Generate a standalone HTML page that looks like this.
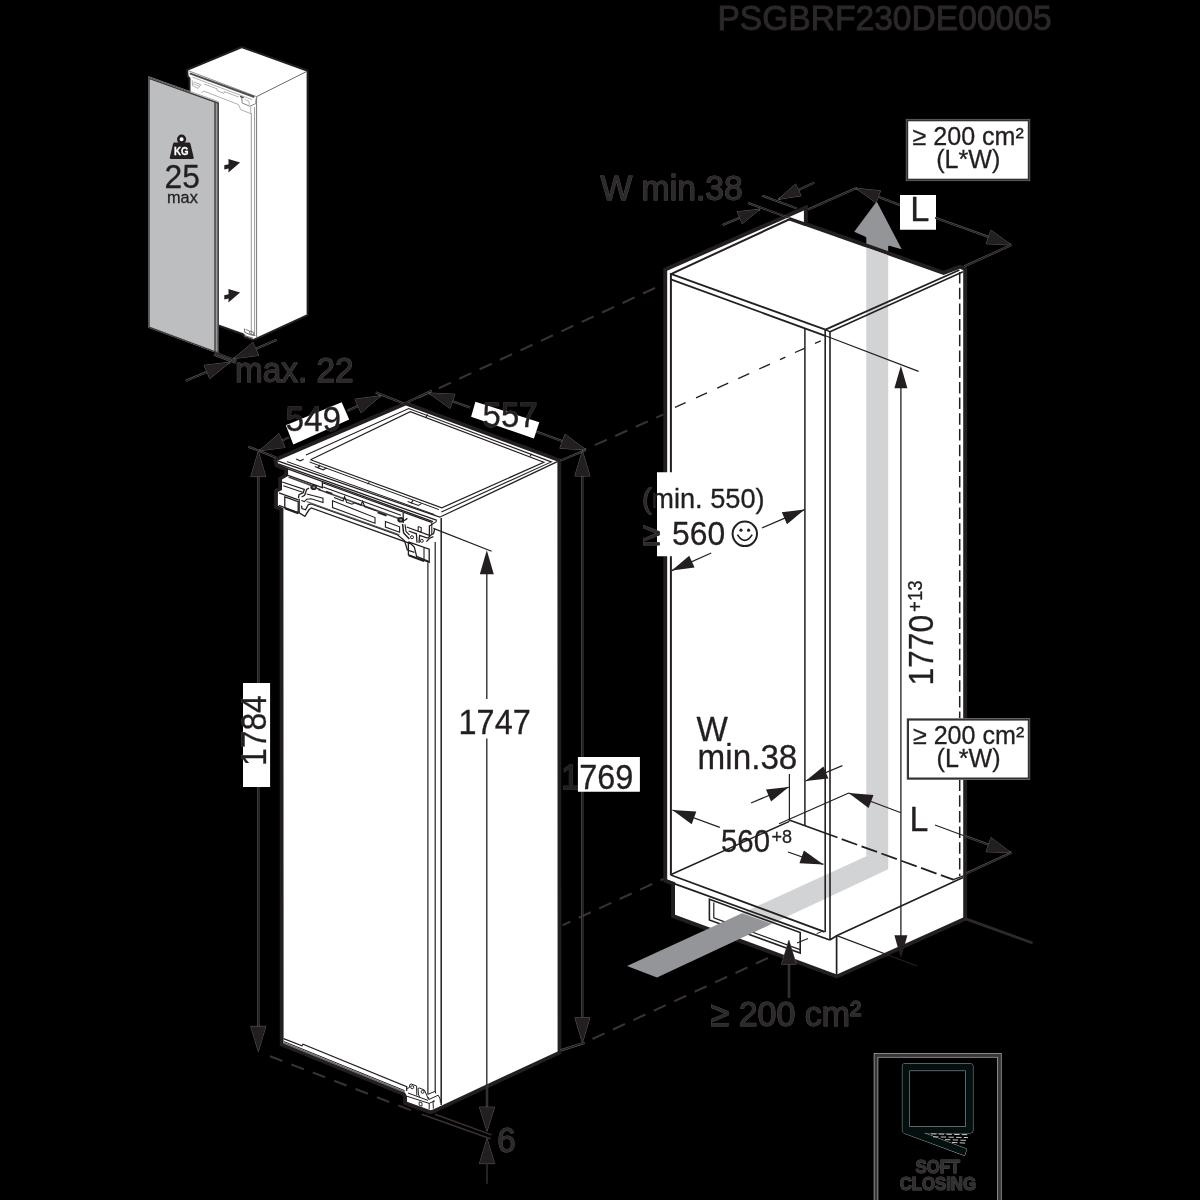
<!DOCTYPE html>
<html><head><meta charset="utf-8"><title>Installation dimensions</title>
<style>html,body{margin:0;padding:0;background:#000;overflow:hidden;}svg{display:block;will-change:transform;}text{font-family:"Liberation Sans",sans-serif;}</style></head>
<body>
<svg width="1200" height="1200" viewBox="0 0 1200 1200">
<rect width="1200" height="1200" fill="#000"/>
<text x="717.4" y="30.2" font-size="35" text-anchor="start" fill="#2c2829" transform="translate(717.4 30.2) scale(0.96 1) translate(-717.4 -30.2)" stroke="#2c2829" stroke-width="0.9">PSGBRF230DE00005</text>
<line x1="407" y1="403" x2="663.5" y2="284" stroke="#3a3036" stroke-width="2.1" stroke-dasharray="13.3 9.2" stroke-dashoffset="9.9"/>
<line x1="586" y1="449" x2="663.5" y2="414.4" stroke="#3a3036" stroke-width="2.1" stroke-dasharray="13.3 9.2" stroke-dashoffset="12.97"/>
<line x1="562.6" y1="925.2" x2="664" y2="878.6" stroke="#3a3036" stroke-width="2.1" stroke-dasharray="13.3 9.2" stroke-dashoffset="4.73"/>
<line x1="586" y1="1042" x2="770" y2="957" stroke="#3a3036" stroke-width="2.1" stroke-dasharray="13.3 9.2" stroke-dashoffset="15.34"/>
<polygon points="188.2,70.6 241.8,48.2 306.6,71.5 306.6,314.5 256.6,337.4 253.3,338.9 245.3,336.3 243.3,333.3 190.5,314.6 190.5,78 188.6,76" fill="#fff" stroke="#231f20" stroke-width="4" stroke-linejoin="miter" stroke-miterlimit="3" paint-order="stroke"/>
<polyline points="188.2,70.6 256.6,96.6" fill="none" stroke="#777" stroke-width="0.8" />
<polyline points="256.6,96.6 306.6,71.5" fill="none" stroke="#5a5758" stroke-width="0.9" />
<polyline points="256.6,96.6 256.6,337.4" fill="none" stroke="#6a6768" stroke-width="0.9" />
<polyline points="189.8,73.3 254.4,97" fill="none" stroke="#4d4a4b" stroke-width="1.9" />
<polyline points="192.6,77.2 252,99.6" fill="none" stroke="#9c9c9c" stroke-width="0.8" />
<polyline points="192.2,80.2 192.6,85.8 198,88.4 200.8,84.8 193.6,81.8" fill="none" stroke="#9c9c9c" stroke-width="0.8" />
<polyline points="193,83.6 199.6,86.4" fill="none" stroke="#9c9c9c" stroke-width="0.7" />
<polyline points="204,84 217,88.8 217.4,90.8 224,93.4 224.4,91.6 238.6,97" fill="none" stroke="#9c9c9c" stroke-width="0.8" />
<polyline points="201.4,93.2 203.4,91 238.6,104.6 240.6,109.6 250.6,113.6 250.8,106.4" fill="none" stroke="#9c9c9c" stroke-width="0.8" />
<polyline points="241.6,97.6 242.2,103 249.6,106.2 255.6,103.8 256.2,98.4" fill="none" stroke="#7a7778" stroke-width="0.9" />
<polyline points="245,99.6 249,101.2 249.2,104.8" fill="none" stroke="#9c9c9c" stroke-width="0.7" />
<polyline points="240,96.4 243.6,97.8" fill="none" stroke="#4d4a4b" stroke-width="1.5" />
<polyline points="251.3,113 251.3,334" fill="none" stroke="#8a8a8a" stroke-width="0.9" />
<polyline points="254.6,107 254.6,335" fill="none" stroke="#8a8a8a" stroke-width="0.9" />
<polyline points="244.4,328.6 244.8,332.4 250.4,334.8 255.4,335.6" fill="none" stroke="#4a4748" stroke-width="0.8" />
<polyline points="245.6,329.4 249.6,331 249.8,333.6 253.6,334.8 253.8,332.4 250,331" fill="none" stroke="#4a4748" stroke-width="0.7" />
<polyline points="243.6,333.6 245.8,336 253.2,338.2" fill="none" stroke="#4a4748" stroke-width="0.8" />
<polygon points="148.3,77.2 218.9,102.6 218.9,353.8 148.3,327.6" fill="#97999c" stroke="none" stroke-width="0" stroke-linejoin="miter" />
<polygon points="148.3,77.2 214.6,101.2 214.6,352.2 148.3,327.6" fill="#bcbec0" stroke="none" stroke-width="0" stroke-linejoin="miter" />
<polygon points="149,78.3 218.2,103.2 218.2,353 214.6,351.6 149,327.2" fill="none" stroke="#3c393a" stroke-width="1.4" />
<polyline points="215,102.2 215,352" fill="none" stroke="#3c393a" stroke-width="1.3" />
<polyline points="148.4,76.5 218.6,101.7" fill="none" stroke="#8e8e8e" stroke-width="0.8" />
<polygon points="224.3,165.3 228.6,164.2 228.4,159 240.1,162.6 228.4,172.4 228.6,168.4 224.3,169.4" fill="#231f20" stroke="none" stroke-width="0" stroke-linejoin="miter" />
<polygon points="224.3,295.3 228.6,294.2 228.4,289 240.1,292.6 228.4,302.4 228.6,298.4 224.3,299.4" fill="#231f20" stroke="none" stroke-width="0" stroke-linejoin="miter" />
<circle cx="181.6" cy="139.2" r="3.3" fill="#fff" stroke="#231f20" stroke-width="2.6"/>
<path d="M174.6 142.6 H188.9 Q190.2 142.6 190.5 143.9 L193.7 157.4 Q194.0 159.0 192.4 159.0 H171.1 Q169.5 159.0 169.8 157.4 L173.0 143.9 Q173.3 142.6 174.6 142.6 Z" fill="#231f20"/>
<text x="181.2" y="154.7" font-size="10.4" text-anchor="middle" fill="#fff" transform="translate(181.2 154.7) scale(0.93 1) translate(-181.2 -154.7)" stroke="#fff" stroke-width="0.3" font-weight="bold" >KG</text>
<text x="182.3" y="188" font-size="33.5" text-anchor="middle" fill="#231f20" transform="translate(182.3 188) scale(0.95 1) translate(-182.3 -188)" stroke="#231f20" stroke-width="0.3" >25</text>
<text x="182.4" y="202.6" font-size="16.8" text-anchor="middle" fill="#231f20" transform="translate(182.4 202.6) scale(0.97 1) translate(-182.4 -202.6)" stroke="#231f20" stroke-width="0.3" >max</text>
<polyline points="215,352.6 236.6,360.6" fill="none" stroke="#666666" stroke-width="2" />
<polyline points="215,352.6 236.6,360.6" fill="none" stroke="#231f20" stroke-width="1.2" />
<polyline points="214,354.8 235.6,362.8" fill="none" stroke="#666666" stroke-width="2" />
<polyline points="214,354.8 235.6,362.8" fill="none" stroke="#231f20" stroke-width="1.2" />
<polyline points="276.7,339.7 233.4,358.7" fill="none" stroke="#666666" stroke-width="2.1" />
<polyline points="276.7,339.7 233.4,358.7" fill="none" stroke="#231f20" stroke-width="1.3" />
<polygon points="233.4,358.7 252.96,342.31 258.71,355.4" fill="#231f20" stroke="#666666" stroke-width="0.9" stroke-linejoin="miter" />
<polygon points="233.4,358.7 252.96,342.31 258.71,355.4" fill="#231f20" stroke="none" stroke-width="0" stroke-linejoin="miter" />
<polyline points="185.8,380.8 230,362.3" fill="none" stroke="#666666" stroke-width="2.1" />
<polyline points="185.8,380.8 230,362.3" fill="none" stroke="#231f20" stroke-width="1.3" />
<polygon points="230,362.3 209.72,378.59 204.16,365.31" fill="#231f20" stroke="#666666" stroke-width="0.9" stroke-linejoin="miter" />
<polygon points="230,362.3 209.72,378.59 204.16,365.31" fill="#231f20" stroke="none" stroke-width="0" stroke-linejoin="miter" />
<text x="234.9" y="382.5" font-size="35.5" text-anchor="start" fill="#2e2a2b" transform="translate(234.9 382.5) scale(0.94 1) translate(-234.9 -382.5)" stroke="#585858" stroke-width="1.1" paint-order="stroke" >max. 22</text>
<text x="234.9" y="382.5" font-size="35.5" text-anchor="start" fill="#2e2a2b" transform="translate(234.9 382.5) scale(0.94 1) translate(-234.9 -382.5)" stroke="#2e2a2b" stroke-width="0.3" >max. 22</text>
<polygon points="277.5,460.8 405.8,405.4 557.4,461.6 557.6,1051.4 441.7,1105.4 433.6,1109.2 430.6,1110.2 407,1101.8 407,1096.2 405,1092.6 283.6,1043.2 283.4,508.2 277.9,505.6 277.9,491.9 282,490 282,479.6 288.1,476 288.1,468.2 278.2,464" fill="#fff" stroke="#231f20" stroke-width="7.6" stroke-linejoin="miter" stroke-miterlimit="3" paint-order="stroke"/>
<polyline points="277.5,460.8 439.7,517.2 557.4,461.6" fill="none" stroke="#231f20" stroke-width="1.25" />
<polyline points="287,461.6 434.6,514.6" fill="none" stroke="#231f20" stroke-width="1" />
<polyline points="309.6,462 439,509.6" fill="none" stroke="#231f20" stroke-width="1" />
<polyline points="306,455 408.7,408.5 551.3,461.9 441.4,512" fill="none" stroke="#231f20" stroke-width="1.1" />
<polyline points="310.5,459.8 410.3,411.6 543.8,462.3 441.8,507.8 310.5,459.8" fill="none" stroke="#231f20" stroke-width="1.2" />
<polyline points="427.4,414.2 426,417.2" fill="none" stroke="#231f20" stroke-width="1.1" />
<polyline points="531.6,453.8 530,456.6" fill="none" stroke="#231f20" stroke-width="1.1" />
<polyline points="441.2,518 441.2,1105" fill="none" stroke="#231f20" stroke-width="1.5" />
<polyline points="435.2,542 435.2,1091.4" fill="none" stroke="#231f20" stroke-width="1.2" />
<polyline points="427.9,562.5 427.9,1094.2" fill="none" stroke="#231f20" stroke-width="1.2" />
<polyline points="283.6,1038.6 302,1045.8 303,1044.2 406.7,1086.7 406.7,1091" fill="none" stroke="#231f20" stroke-width="1.2" />
<polyline points="284,1041.6 404.6,1090.6" fill="none" stroke="#231f20" stroke-width="1" />
<polyline points="284,1043 404.6,1092" fill="none" stroke="#6d6a6b" stroke-width="1.4" />
<polyline points="278.1,463.8 437,520.4" fill="none" stroke="#231f20" stroke-width="1.3" />
<polyline points="287.7,468.9 433,521.6" fill="none" stroke="#231f20" stroke-width="1.3" />
<polyline points="288,475.4 322.4,487.6" fill="none" stroke="#231f20" stroke-width="1.3" />
<polyline points="288.6,477 311.3,485.4" fill="none" stroke="#4a4648" stroke-width="1.7" />
<polyline points="322.4,481.6 322.4,488.4" fill="none" stroke="#231f20" stroke-width="1.3" />
<polyline points="323,483 431.6,522.4" fill="none" stroke="#231f20" stroke-width="1.3" />
<polyline points="318.4,489.4 403.6,520.2" fill="none" stroke="#4a4648" stroke-width="1.6" />
<polyline points="323.2,487 401,515.2" fill="none" stroke="#231f20" stroke-width="1.1" />
<polyline points="296,459 300.4,460.8 303.6,459.2" fill="none" stroke="#231f20" stroke-width="1.1" />
<polyline points="314.8,466.6 323.2,469.8 326.6,468" fill="none" stroke="#231f20" stroke-width="1.1" />
<polyline points="320,465 317.8,468" fill="none" stroke="#231f20" stroke-width="1.3" />
<polyline points="407.6,501.4 418.4,505.4 421.4,503.6" fill="none" stroke="#231f20" stroke-width="1.1" />
<polyline points="413.2,500 411,503.4" fill="none" stroke="#231f20" stroke-width="1.3" />
<path d="M367.4 484.0 l2.0 -1.4" stroke="#231f20" stroke-width="1.4" fill="none"/>
<polyline points="282.2,482 304.3,489.3 303.2,492.8 299,494.6 298.5,498.2" fill="none" stroke="#231f20" stroke-width="1.3" />
<polyline points="283.3,485.8 302.6,492.3" fill="none" stroke="#231f20" stroke-width="1.1" />
<polyline points="279,492.8 284.5,494.9 298.4,499.8" fill="none" stroke="#231f20" stroke-width="1.3" />
<polygon points="284.8,496.9 298.2,501.6 298.2,512.7 284.8,507.7" fill="none" stroke="#231f20" stroke-width="1.3" />
<polyline points="284.8,508.2 298.2,513.2" fill="none" stroke="#231f20" stroke-width="2" />
<polyline points="279,505.4 284.6,507.6" fill="none" stroke="#231f20" stroke-width="1.3" />
<polyline points="299.2,498.7 299.2,512.9 304.9,516.4 309,509.8 311.3,508 411,543.8 414.4,547.4 416.6,556.4 429.2,561.6" fill="none" stroke="#231f20" stroke-width="1.3" />
<polyline points="301.6,497 304.6,495.2 305.6,492.6 306.6,489.4 309,488.2" fill="none" stroke="#231f20" stroke-width="1.3" />
<polyline points="301.4,500.4 304.3,501.6 306.7,499.3 311.3,498.7 323,502.6 323,498.1 306.7,494" fill="none" stroke="#231f20" stroke-width="1.1" />
<polyline points="301.4,505.7 302,508.6 305.5,509.8 308.4,504.5 311.3,503.9 397,534.6 404.4,540.6 407.4,550 414.4,552.4" fill="none" stroke="#231f20" stroke-width="1.3" />
<polyline points="306.6,501.6 399.4,534.8" fill="none" stroke="#555" stroke-width="1.1" />
<polyline points="326,491.6 332.3,493.8" fill="none" stroke="#231f20" stroke-width="1.7" />
<polygon points="332.5,500.8 375,517.5 375,523.3 332.5,507.5" fill="none" stroke="#231f20" stroke-width="1.1" />
<polygon points="385.4,521.4 399.6,526.8 399.6,532.2 385.4,527" fill="none" stroke="#231f20" stroke-width="1.1" />
<polyline points="334,497.6 343,501 344.6,496.6 346.6,502.2 352,504.2 354.4,502.8 361,505.2 362.6,501.2 364.8,506.8 377,511" fill="none" stroke="#231f20" stroke-width="1.1" />
<polyline points="377.6,512.4 386.6,515.6" fill="none" stroke="#231f20" stroke-width="1.8" />
<ellipse cx="313.7" cy="487.3" rx="3.3" ry="2.8" fill="#231f20"/>
<ellipse cx="313.9" cy="487.3" rx="1.4" ry="1.1" fill="#8a8a8a"/>
<ellipse cx="400.6" cy="519.8" rx="3.3" ry="2.8" fill="#231f20"/>
<ellipse cx="400.8" cy="519.8" rx="1.4" ry="1.1" fill="#8a8a8a"/>
<polyline points="317,488.4 320.4,489.8" fill="none" stroke="#231f20" stroke-width="1.5" />
<polyline points="404,520.8 407.4,518.4" fill="none" stroke="#231f20" stroke-width="1.3" />
<polyline points="403.2,512.8 403.2,523" fill="none" stroke="#231f20" stroke-width="1.3" />
<polyline points="402.6,524 403.6,533 407,536.6 409.4,539" fill="none" stroke="#231f20" stroke-width="1.5" />
<polyline points="405,524.4 406,531.4 409.6,535.2" fill="none" stroke="#231f20" stroke-width="1.1" />
<polyline points="406.6,527 429.4,535.4 429.4,525.6" fill="none" stroke="#231f20" stroke-width="1.3" />
<polyline points="408.6,531 416.4,533.8 417,542.6" fill="none" stroke="#231f20" stroke-width="1.3" />
<polyline points="419,543 419.6,535.4 427.6,538.2" fill="none" stroke="#231f20" stroke-width="1.3" />
<polyline points="418.2,526.6 418.2,531.2 421.2,532.2 421.2,527.6 418.2,526.6" fill="none" stroke="#231f20" stroke-width="1.1" />
<circle cx="412.0" cy="537.2" r="1.5" fill="none" stroke="#231f20" stroke-width="1.0"/>
<circle cx="421.8" cy="540.8" r="1.5" fill="none" stroke="#231f20" stroke-width="1.0"/>
<polyline points="408.4,541.8 429.2,549.2 429.2,562.4 408.4,554.8 408.4,541.8" fill="none" stroke="#231f20" stroke-width="1.3" />
<polyline points="424,547.4 424,560.4" fill="none" stroke="#231f20" stroke-width="1.1" />
<polyline points="408.6,555.4 424,561.2" fill="none" stroke="#231f20" stroke-width="1.9" />
<polyline points="427.6,538.2 431,535 433.6,533.6 434.6,529" fill="none" stroke="#231f20" stroke-width="1.3" />
<polyline points="426.4,541.6 429.6,538.2 433.4,536.6" fill="none" stroke="#231f20" stroke-width="1.3" />
<polyline points="431.8,522.2 431.8,534.4" fill="none" stroke="#231f20" stroke-width="1.1" />
<polyline points="429.4,526 436.8,521.4" fill="none" stroke="#231f20" stroke-width="1.1" />
<polyline points="406.7,1088.6 409.4,1087.6 409.8,1084.6 411.4,1084 416.6,1086 416.8,1095.6" fill="none" stroke="#231f20" stroke-width="1" />
<polyline points="418,1088.4 419.4,1088 424.4,1090 426.2,1094 428.6,1099.6" fill="none" stroke="#231f20" stroke-width="1" />
<polyline points="418,1088.4 418.4,1094 419.6,1097.4" fill="none" stroke="#231f20" stroke-width="1" />
<circle cx="412.2" cy="1087.2" r="1.5" fill="none" stroke="#231f20" stroke-width="1.0"/>
<circle cx="422.6" cy="1091.8" r="1.5" fill="none" stroke="#231f20" stroke-width="1.0"/>
<polyline points="407.1,1096.3 429.2,1103.4 429.2,1109.4" fill="none" stroke="#231f20" stroke-width="1" />
<polyline points="408,1093 428,1100.4" fill="none" stroke="#231f20" stroke-width="1" />
<polyline points="419.2,1101.8 419.2,1105.2 422,1106.2 422,1102.8 419.2,1101.8" fill="none" stroke="#231f20" stroke-width="0.9" />
<polyline points="427.6,1094.4 435.4,1091.2 435.6,1093.4" fill="none" stroke="#231f20" stroke-width="1" />
<polyline points="428.4,1097.2 429.2,1099.4 438.2,1095.2 440.2,1099 440.4,1102.6" fill="none" stroke="#231f20" stroke-width="1" />
<polyline points="429.2,1103.4 433,1101.6 433.4,1108.6" fill="none" stroke="#231f20" stroke-width="1" />
<polyline points="433,1101.6 434.6,1100.8" fill="none" stroke="#231f20" stroke-width="1.6" />
<polyline points="258.3,476 258.3,1027" fill="none" stroke="#666666" stroke-width="2.3" />
<polyline points="258.3,476 258.3,1027" fill="none" stroke="#231f20" stroke-width="1.5" />
<polygon points="258.3,451.6 265.8,476.6 250.8,476.6" fill="#231f20" stroke="#666666" stroke-width="0.9" stroke-linejoin="miter" />
<polygon points="258.3,451.6 265.8,476.6 250.8,476.6" fill="#231f20" stroke="none" stroke-width="0" stroke-linejoin="miter" />
<polygon points="258.3,1051.4 250.8,1026.4 265.8,1026.4" fill="#231f20" stroke="#666666" stroke-width="0.9" stroke-linejoin="miter" />
<polygon points="258.3,1051.4 250.8,1026.4 265.8,1026.4" fill="#231f20" stroke="none" stroke-width="0" stroke-linejoin="miter" />
<text x="265.8" y="766" font-size="35.4" text-anchor="start" fill="#2e2a2b" transform="rotate(-90 265.8 766) translate(265.8 766) scale(0.9 1) translate(-265.8 -766)" stroke="#585858" stroke-width="1.1" paint-order="stroke" >1784</text>
<text x="265.8" y="766" font-size="35.4" text-anchor="start" fill="#2e2a2b" transform="rotate(-90 265.8 766) translate(265.8 766) scale(0.9 1) translate(-265.8 -766)" stroke="#2e2a2b" stroke-width="0.3" >1784</text>
<polygon points="243,683 270.1,683 270.1,787 243,787" fill="#fff" stroke="none" stroke-width="0" stroke-linejoin="miter" />
<text x="265.8" y="766" font-size="35.4" text-anchor="start" fill="#231f20" transform="rotate(-90 265.8 766) translate(265.8 766) scale(0.9 1) translate(-265.8 -766)" stroke="#231f20" stroke-width="0.3" >1784</text>
<polyline points="248.3,446.7 276,457.4" fill="none" stroke="#666666" stroke-width="2.1" />
<polyline points="248.3,446.7 276,457.4" fill="none" stroke="#231f20" stroke-width="1.3" />
<polyline points="347.5,410.8 380.8,395.8" fill="none" stroke="#666666" stroke-width="2.1" />
<polyline points="347.5,410.8 380.8,395.8" fill="none" stroke="#231f20" stroke-width="1.3" />
<polygon points="380.8,395.8 361.09,412.91 354.93,399.23" fill="#231f20" stroke="#666666" stroke-width="0.9" stroke-linejoin="miter" />
<polygon points="380.8,395.8 361.09,412.91 354.93,399.23" fill="#231f20" stroke="none" stroke-width="0" stroke-linejoin="miter" />
<polyline points="289,437.4 259.2,450.8" fill="none" stroke="#666666" stroke-width="2.1" />
<polyline points="289,437.4 259.2,450.8" fill="none" stroke="#231f20" stroke-width="1.3" />
<polygon points="259.2,450.8 278.93,433.71 285.08,447.39" fill="#231f20" stroke="#666666" stroke-width="0.9" stroke-linejoin="miter" />
<polygon points="259.2,450.8 278.93,433.71 285.08,447.39" fill="#231f20" stroke="none" stroke-width="0" stroke-linejoin="miter" />
<text x="285.5" y="430.6" font-size="35.5" text-anchor="start" fill="#2e2a2b" transform="translate(285.5 430.6) scale(0.94 1) translate(-285.5 -430.6)" stroke="#585858" stroke-width="1.1" paint-order="stroke" >549</text>
<text x="285.5" y="430.6" font-size="35.5" text-anchor="start" fill="#2e2a2b" transform="translate(285.5 430.6) scale(0.94 1) translate(-285.5 -430.6)" stroke="#2e2a2b" stroke-width="0.3" >549</text>
<polygon points="285.8,425.2 341.7,402.2 349.2,419.4 293.3,444.4" fill="#fff" stroke="none" stroke-width="0" stroke-linejoin="miter" />
<text x="285.5" y="430.6" font-size="35.5" text-anchor="start" fill="#231f20" transform="translate(285.5 430.6) scale(0.94 1) translate(-285.5 -430.6)" stroke="#231f20" stroke-width="0.3" >549</text>
<polyline points="375.8,392.4 404,403.6" fill="none" stroke="#666666" stroke-width="2.1" />
<polyline points="375.8,392.4 404,403.6" fill="none" stroke="#231f20" stroke-width="1.3" />
<polyline points="431.7,390.8 407,402.4" fill="none" stroke="#666666" stroke-width="2.1" />
<polyline points="431.7,390.8 407,402.4" fill="none" stroke="#231f20" stroke-width="1.3" />
<polyline points="470,407.6 428.8,393" fill="none" stroke="#666666" stroke-width="2.1" />
<polyline points="470,407.6 428.8,393" fill="none" stroke="#231f20" stroke-width="1.3" />
<polygon points="428.8,393 454.87,394.28 449.86,408.42" fill="#231f20" stroke="#666666" stroke-width="0.9" stroke-linejoin="miter" />
<polygon points="428.8,393 454.87,394.28 449.86,408.42" fill="#231f20" stroke="none" stroke-width="0" stroke-linejoin="miter" />
<polyline points="536,431.6 585.9,449.8" fill="none" stroke="#666666" stroke-width="2.1" />
<polyline points="536,431.6 585.9,449.8" fill="none" stroke="#231f20" stroke-width="1.3" />
<polygon points="585.9,449.8 559.84,448.28 564.98,434.19" fill="#231f20" stroke="#666666" stroke-width="0.9" stroke-linejoin="miter" />
<polygon points="585.9,449.8 559.84,448.28 564.98,434.19" fill="#231f20" stroke="none" stroke-width="0" stroke-linejoin="miter" />
<text x="482.6" y="426.8" font-size="35" text-anchor="start" fill="#2e2a2b" transform="translate(482.6 426.8) scale(0.94 1) translate(-482.6 -426.8)" stroke="#585858" stroke-width="1.1" paint-order="stroke" >557</text>
<text x="482.6" y="426.8" font-size="35" text-anchor="start" fill="#2e2a2b" transform="translate(482.6 426.8) scale(0.94 1) translate(-482.6 -426.8)" stroke="#2e2a2b" stroke-width="0.3" >557</text>
<polygon points="475.4,401.7 539.3,422.3 533.9,438.5 471.1,416.8" fill="#fff" stroke="none" stroke-width="0" stroke-linejoin="miter" />
<text x="482.6" y="426.8" font-size="35" text-anchor="start" fill="#231f20" transform="translate(482.6 426.8) scale(0.94 1) translate(-482.6 -426.8)" stroke="#231f20" stroke-width="0.3" >557</text>
<polyline points="560.5,460.6 585.5,450" fill="none" stroke="#666666" stroke-width="2.1" />
<polyline points="560.5,460.6 585.5,450" fill="none" stroke="#231f20" stroke-width="1.3" />
<polyline points="582.2,475 582.2,1019" fill="none" stroke="#666666" stroke-width="2.3" />
<polyline points="582.2,475 582.2,1019" fill="none" stroke="#231f20" stroke-width="1.5" />
<polygon points="582.4,451 589.9,476 574.9,476" fill="#231f20" stroke="#666666" stroke-width="0.9" stroke-linejoin="miter" />
<polygon points="582.4,451 589.9,476 574.9,476" fill="#231f20" stroke="none" stroke-width="0" stroke-linejoin="miter" />
<polygon points="582.4,1042.6 574.9,1017.6 589.9,1017.6" fill="#231f20" stroke="#666666" stroke-width="0.9" stroke-linejoin="miter" />
<polygon points="582.4,1042.6 574.9,1017.6 589.9,1017.6" fill="#231f20" stroke="none" stroke-width="0" stroke-linejoin="miter" />
<text x="561.2" y="789" font-size="34.5" text-anchor="start" fill="#2e2a2b" transform="translate(561.2 789) scale(0.94 1) translate(-561.2 -789)" stroke="#585858" stroke-width="1.1" paint-order="stroke" >1769</text>
<text x="561.2" y="789" font-size="34.5" text-anchor="start" fill="#2e2a2b" transform="translate(561.2 789) scale(0.94 1) translate(-561.2 -789)" stroke="#2e2a2b" stroke-width="0.3" >1769</text>
<polygon points="577.9,756.9 639.9,756.9 639.9,791.7 577.9,791.7" fill="#fff" stroke="none" stroke-width="0" stroke-linejoin="miter" />
<text x="561.2" y="789" font-size="34.5" text-anchor="start" fill="#231f20" transform="translate(561.2 789) scale(0.94 1) translate(-561.2 -789)" stroke="#231f20" stroke-width="0.3" >1769</text>
<polyline points="560.6,1050.4 584.6,1042.8" fill="none" stroke="#666666" stroke-width="2.3" />
<polyline points="560.6,1050.4 584.6,1042.8" fill="none" stroke="#231f20" stroke-width="1.5" />
<polyline points="486.8,574 486.8,699" fill="none" stroke="#231f20" stroke-width="1.3" />
<polyline points="486.8,738.5 486.8,1084" fill="none" stroke="#231f20" stroke-width="1.3" />
<polygon points="486.8,550.2 493.8,574.2 479.8,574.2" fill="#231f20" stroke="none" stroke-width="0" stroke-linejoin="miter" />
<polyline points="433.4,528.4 491.6,551.2" fill="none" stroke="#231f20" stroke-width="1.2" />
<text x="458.6" y="734" font-size="34.5" text-anchor="start" fill="#231f20" transform="translate(458.6 734) scale(0.94 1) translate(-458.6 -734)" stroke="#231f20" stroke-width="0.3" >1747</text>
<polyline points="487,1084 487,1108" fill="none" stroke="#666666" stroke-width="2.3" />
<polyline points="487,1084 487,1108" fill="none" stroke="#231f20" stroke-width="1.5" />
<polygon points="487,1131.2 479.5,1107.2 494.5,1107.2" fill="#231f20" stroke="#666666" stroke-width="0.9" stroke-linejoin="miter" />
<polygon points="487,1131.2 479.5,1107.2 494.5,1107.2" fill="#231f20" stroke="none" stroke-width="0" stroke-linejoin="miter" />
<polygon points="487,1138.6 494.5,1163.6 479.5,1163.6" fill="#231f20" stroke="#666666" stroke-width="0.9" stroke-linejoin="miter" />
<polygon points="487,1138.6 494.5,1163.6 479.5,1163.6" fill="#231f20" stroke="none" stroke-width="0" stroke-linejoin="miter" />
<polyline points="487,1163 487,1183.8" fill="none" stroke="#2e2a2b" stroke-width="1.7" />
<text x="497.2" y="1152.2" font-size="35" text-anchor="start" fill="#2e2a2b" transform="translate(497.2 1152.2) scale(0.95 1) translate(-497.2 -1152.2)" stroke="#585858" stroke-width="1.1" paint-order="stroke" >6</text>
<text x="497.2" y="1152.2" font-size="35" text-anchor="start" fill="#2e2a2b" transform="translate(497.2 1152.2) scale(0.95 1) translate(-497.2 -1152.2)" stroke="#2e2a2b" stroke-width="0.3" >6</text>
<line x1="270" y1="1056.2" x2="413" y2="1111" stroke="#3a3036" stroke-width="2.1" stroke-dasharray="13.3 9.6" stroke-dashoffset="22.9"/>
<polyline points="435,1114.2 491.5,1134.9" fill="none" stroke="#3a3036" stroke-width="1.5" />
<polyline points="421.7,1114.2 490.5,1138.8" fill="none" stroke="#3a3036" stroke-width="1.5" />
<polygon points="876.7,201.6 854.2,231.7 865,236.6 866.3,237.4 866.3,249 888.2,257 888.2,246 889.2,245.8 901.7,249.3" fill="#939598" stroke="none" stroke-width="0" stroke-linejoin="miter" />
<polygon points="667.2,270.8 803.9,210.4 803.9,225.5 943.6,274.9 960,268.7 963.2,270.3 963.2,917.6 836.8,974.4 675,914.8 675,882.4 667.2,879.4" fill="#fff" stroke="#231f20" stroke-width="7.8" stroke-linejoin="miter" stroke-miterlimit="3" paint-order="stroke"/>
<polygon points="866.3,247.6 866.3,856.2 742,913.2 772,923.8 888.2,869.2 888.2,255.3" fill="#d1d3d4" stroke="none" stroke-width="0" stroke-linejoin="miter" />
<polyline points="672,273.6 790,219" fill="none" stroke="#231f20" stroke-width="2" />
<polyline points="789,218.6 806,224.6" fill="none" stroke="#231f20" stroke-width="3.4" />
<polyline points="670.8,273.8 825.4,329.6" fill="none" stroke="#231f20" stroke-width="1.8" />
<polyline points="670.8,279.4 825.4,335.8" fill="none" stroke="#231f20" stroke-width="1.8" />
<polyline points="825.4,329.6 959.4,270" fill="none" stroke="#231f20" stroke-width="1.8" />
<polyline points="830,331.8 963,271.8" fill="none" stroke="#231f20" stroke-width="1.5" />
<polyline points="825.4,329.6 830.2,331.9" fill="none" stroke="#231f20" stroke-width="1.3" />
<polyline points="670.9,273 670.9,875" fill="none" stroke="#231f20" stroke-width="2" />
<polyline points="804.9,328.6 804.9,826" fill="none" stroke="#231f20" stroke-width="1.5" />
<polyline points="825.2,330 825.2,932" fill="none" stroke="#231f20" stroke-width="1.6" />
<polyline points="830,332 830,939.6" fill="none" stroke="#231f20" stroke-width="1.6" />
<polyline points="959.7,272 959.7,718" fill="none" stroke="#231f20" stroke-width="1.5" stroke-dasharray="11.5 4.2" />
<polyline points="959.7,779.5 959.7,876" fill="none" stroke="#231f20" stroke-width="1.5" stroke-dasharray="11.5 4.2" />
<polyline points="675,407.4 685.6,402.6" fill="none" stroke="#231f20" stroke-width="1.3" />
<polyline points="780,359.6 785.4,357.1" fill="none" stroke="#231f20" stroke-width="1.3" />
<polyline points="696,397.9 707,392.9" fill="none" stroke="#231f20" stroke-width="1.3" />
<polyline points="717.2,388.2 728.2,383.2" fill="none" stroke="#231f20" stroke-width="1.3" />
<polyline points="738.2,378.6 749.2,373.6" fill="none" stroke="#231f20" stroke-width="1.3" />
<polyline points="759.2,369 770,364.1" fill="none" stroke="#231f20" stroke-width="1.3" />
<polyline points="795,352.5 804.6,348.3" fill="none" stroke="#231f20" stroke-width="1.3" />
<polyline points="815,343.3 820.8,340.8" fill="none" stroke="#231f20" stroke-width="1.3" />
<polyline points="825.4,335.8 918.6,371.4" fill="none" stroke="#231f20" stroke-width="1.2" />
<polyline points="900.9,388 900.9,936" fill="none" stroke="#231f20" stroke-width="1.3" />
<polygon points="900.9,365.8 907.4,388.3 894.4,388.3" fill="#231f20" stroke="none" stroke-width="0" stroke-linejoin="miter" />
<polygon points="900.9,958.2 894.4,935.2 907.4,935.2" fill="#231f20" stroke="none" stroke-width="0" stroke-linejoin="miter" />
<text x="933" y="685.6" font-size="35" text-anchor="start" fill="#231f20" transform="rotate(-90 933 685.6) translate(933 685.6) scale(0.91 1) translate(-933 -685.6)" stroke="#231f20" stroke-width="0.3" >1770</text>
<text x="922" y="612" font-size="21" text-anchor="start" fill="#231f20" transform="rotate(-90 922 612) translate(922 612) scale(0.89 1) translate(-922 -612)" stroke="#231f20" stroke-width="0.3" >+13</text>
<polyline points="671.7,874.2 789.4,821.4" fill="none" stroke="#231f20" stroke-width="1.5" />
<polyline points="779,823.8 848.8,793" fill="none" stroke="#231f20" stroke-width="1.2" />
<polyline points="789.2,820 837.5,837.5" fill="none" stroke="#231f20" stroke-width="1.8" />
<polyline points="841.7,839.1 953.3,879.7" fill="none" stroke="#231f20" stroke-width="1.8" stroke-dasharray="16.5 4.6" />
<polyline points="952.6,879.8 963.2,875.8" fill="none" stroke="#231f20" stroke-width="1.3" />
<polyline points="670.8,875 824.6,931.8" fill="none" stroke="#231f20" stroke-width="1.8" />
<polyline points="672,882.8 829.8,940" fill="none" stroke="#231f20" stroke-width="1.8" />
<polyline points="666,880.4 675,883.8" fill="none" stroke="#231f20" stroke-width="2.6" />
<polyline points="816.7,933.7 822.5,931.2" fill="none" stroke="#231f20" stroke-width="1" />
<polyline points="836.6,935.6 836.6,975.2" fill="none" stroke="#231f20" stroke-width="1.7" />
<polyline points="829.8,940 836.6,935.8 963,877.4" fill="none" stroke="#231f20" stroke-width="1.7" />
<polygon points="709.4,899.2 800.2,932.6 800.2,953 709.4,920" fill="none" stroke="#231f20" stroke-width="1.6" />
<polyline points="713.8,918 713.8,902.4" fill="none" stroke="#231f20" stroke-width="1.2" />
<polyline points="713.8,917.9 800,949.6" fill="none" stroke="#231f20" stroke-width="1.2" />
<polyline points="797,943 808,938.6" fill="none" stroke="#231f20" stroke-width="1.1" />
<polygon points="742,913.2 627,966 657,977.6 772,923.8" fill="#939598" stroke="none" stroke-width="0" stroke-linejoin="miter" />
<polyline points="837.5,935.8 917,966" fill="none" stroke="#231f20" stroke-width="1.25" />
<polyline points="964.6,918.4 1032.6,943" fill="none" stroke="#2d292a" stroke-width="2.8" />
<text x="696.6" y="740.8" font-size="35" text-anchor="start" fill="#231f20" transform="translate(696.6 740.8) scale(0.95 1) translate(-696.6 -740.8)" stroke="#231f20" stroke-width="0.3" >W</text>
<text x="697.6" y="769.4" font-size="35" text-anchor="start" fill="#231f20" transform="translate(697.6 769.4) scale(0.95 1) translate(-697.6 -769.4)" stroke="#231f20" stroke-width="0.3" >min.38</text>
<polyline points="789.4,774 789.4,821" fill="none" stroke="#231f20" stroke-width="1.2" />
<polyline points="751,803 788.8,787" fill="none" stroke="#231f20" stroke-width="1.2" />
<polygon points="788.8,787 771.07,801.56 766.01,789.59" fill="#231f20" stroke="none" stroke-width="0" stroke-linejoin="miter" />
<polyline points="842.4,765.6 805.6,781" fill="none" stroke="#231f20" stroke-width="1.2" />
<polygon points="805.6,781 823.39,766.51 828.4,778.5" fill="#231f20" stroke="none" stroke-width="0" stroke-linejoin="miter" />
<polyline points="719.8,827.4 672.4,810" fill="none" stroke="#231f20" stroke-width="1.3" />
<polygon points="672.4,810 696.32,811.59 691.67,824.26" fill="#231f20" stroke="none" stroke-width="0" stroke-linejoin="miter" />
<polyline points="788,852 823.4,864.4" fill="none" stroke="#231f20" stroke-width="1.3" />
<polygon points="823.4,864.4 799.46,863.17 803.92,850.43" fill="#231f20" stroke="none" stroke-width="0" stroke-linejoin="miter" />
<text x="721" y="852.4" font-size="31.6" text-anchor="start" fill="#231f20" transform="translate(721 852.4) scale(0.93 1) translate(-721 -852.4)" stroke="#231f20" stroke-width="0.3" >560</text>
<text x="771.6" y="842.6" font-size="18" text-anchor="start" fill="#231f20" stroke="#231f20" stroke-width="0.3" >+8</text>
<polyline points="901,812.8 848.6,793" fill="none" stroke="#231f20" stroke-width="1.2" />
<polygon points="848.6,793 873.52,794.94 868.58,808.03" fill="#231f20" stroke="none" stroke-width="0" stroke-linejoin="miter" />
<text x="909.6" y="831" font-size="35" text-anchor="start" fill="#231f20" transform="translate(909.6 831) scale(0.97 1) translate(-909.6 -831)" stroke="#231f20" stroke-width="0.3" >L</text>
<polyline points="935,825 964,835.8" fill="none" stroke="#231f20" stroke-width="1.2" />
<polyline points="964,835.8 1011.2,852.8" fill="none" stroke="#666666" stroke-width="2.2" />
<polyline points="964,835.8 1011.2,852.8" fill="none" stroke="#231f20" stroke-width="1.4" />
<polygon points="1011.2,852.8 986.08,851.72 991.16,837.61" fill="#231f20" stroke="#666666" stroke-width="0.9" stroke-linejoin="miter" />
<polygon points="1011.2,852.8 986.08,851.72 991.16,837.61" fill="#231f20" stroke="none" stroke-width="0" stroke-linejoin="miter" />
<polyline points="1011.2,852.8 966,873.6" fill="none" stroke="#666666" stroke-width="2.2" />
<polyline points="1011.2,852.8 966,873.6" fill="none" stroke="#231f20" stroke-width="1.4" />
<rect x="907.1" y="718.7" width="122.6" height="60.7" fill="#fff" stroke="#8a8a8a" stroke-width="0.9"/>
<rect x="908.05" y="719.65" width="120.7" height="58.8" fill="#fff" stroke="#343031" stroke-width="1.9"/>
<text x="968.6" y="744.4" font-size="25.6" text-anchor="middle" fill="#231f20" transform="translate(968.6 744.4) scale(0.98 1) translate(-968.6 -744.4)" stroke="#231f20" stroke-width="0.3" >≥ 200 cm²</text>
<text x="968.6" y="766.9" font-size="25.6" text-anchor="middle" fill="#231f20" transform="translate(968.6 766.9) scale(0.98 1) translate(-968.6 -766.9)" stroke="#231f20" stroke-width="0.3" >(L*W)</text>
<polygon points="657,472.2 700,472.2 700,556.2 657,556.2" fill="#fff" stroke="none" stroke-width="0" stroke-linejoin="miter" />
<text x="642.2" y="507.6" font-size="27.2" text-anchor="start" fill="#2e2a2b" stroke="#585858" stroke-width="1.1" paint-order="stroke" >(</text>
<text x="642.2" y="507.6" font-size="27.2" text-anchor="start" fill="#2e2a2b" stroke="#2e2a2b" stroke-width="0.3" >(</text>
<text x="651.26" y="507.6" font-size="27.2" text-anchor="start" fill="#231f20" stroke="#231f20" stroke-width="0.3" >min. 550)</text>
<text x="642.6" y="545" font-size="32.5" text-anchor="start" fill="#2e2a2b" stroke="#585858" stroke-width="1.1" paint-order="stroke" >≥</text>
<text x="642.6" y="545" font-size="32.5" text-anchor="start" fill="#2e2a2b" stroke="#2e2a2b" stroke-width="0.3" >≥</text>
<text x="672" y="545" font-size="32.5" text-anchor="start" fill="#231f20" transform="translate(672 545) scale(0.98 1) translate(-672 -545)" stroke="#231f20" stroke-width="0.3" >560</text>
<circle cx="744.8" cy="533.8" r="12.2" fill="none" stroke="#231f20" stroke-width="2.0"/>
<circle cx="741.0" cy="530.2" r="1.6" fill="#231f20"/><circle cx="748.6" cy="530.2" r="1.6" fill="#231f20"/>
<path d="M737.4 534.6 Q744.8 546.2 752.2 534.6" fill="none" stroke="#231f20" stroke-width="1.7"/>
<polyline points="762,528 804.6,509.6" fill="none" stroke="#231f20" stroke-width="1.3" />
<polygon points="804.6,509.6 786.98,524.29 781.83,512.36" fill="#231f20" stroke="none" stroke-width="0" stroke-linejoin="miter" />
<polyline points="711.2,553 671.8,570.6" fill="none" stroke="#231f20" stroke-width="1.3" />
<polygon points="671.8,570.6 689.24,555.69 694.54,567.56" fill="#231f20" stroke="none" stroke-width="0" stroke-linejoin="miter" />
<text x="600.4" y="199.8" font-size="35.5" text-anchor="start" fill="#2e2a2b" transform="translate(600.4 199.8) scale(0.95 1) translate(-600.4 -199.8)" stroke="#585858" stroke-width="1.1" paint-order="stroke" >W min.38</text>
<text x="600.4" y="199.8" font-size="35.5" text-anchor="start" fill="#2e2a2b" transform="translate(600.4 199.8) scale(0.95 1) translate(-600.4 -199.8)" stroke="#2e2a2b" stroke-width="0.3" >W min.38</text>
<polyline points="762.4,195.8 796.6,208.4" fill="none" stroke="#666666" stroke-width="2" />
<polyline points="762.4,195.8 796.6,208.4" fill="none" stroke="#231f20" stroke-width="1.2" />
<polyline points="748.4,203 788.4,217.6" fill="none" stroke="#666666" stroke-width="2" />
<polyline points="748.4,203 788.4,217.6" fill="none" stroke="#231f20" stroke-width="1.2" />
<polyline points="814.2,182.6 778.4,199.2" fill="none" stroke="#666666" stroke-width="2.1" />
<polyline points="814.2,182.6 778.4,199.2" fill="none" stroke="#231f20" stroke-width="1.3" />
<polygon points="778.4,199.2 795.62,184.05 801.09,195.84" fill="#231f20" stroke="#666666" stroke-width="0.9" stroke-linejoin="miter" />
<polygon points="778.4,199.2 795.62,184.05 801.09,195.84" fill="#231f20" stroke="none" stroke-width="0" stroke-linejoin="miter" />
<polyline points="722.6,225 760,209.2" fill="none" stroke="#666666" stroke-width="2.1" />
<polyline points="722.6,225 760,209.2" fill="none" stroke="#231f20" stroke-width="1.3" />
<polygon points="760,209.2 742.26,223.75 737.2,211.77" fill="#231f20" stroke="#666666" stroke-width="0.9" stroke-linejoin="miter" />
<polygon points="760,209.2 742.26,223.75 737.2,211.77" fill="#231f20" stroke="none" stroke-width="0" stroke-linejoin="miter" />
<polyline points="808,209.6 855.8,188.3" fill="none" stroke="#666666" stroke-width="2.2" />
<polyline points="808,209.6 855.8,188.3" fill="none" stroke="#231f20" stroke-width="1.4" />
<polyline points="901.2,205.4 855.8,188.3" fill="none" stroke="#666666" stroke-width="2.1" />
<polyline points="901.2,205.4 855.8,188.3" fill="none" stroke="#231f20" stroke-width="1.3" />
<polygon points="855.8,188.3 880.52,190.77 876,202.75" fill="#231f20" stroke="#666666" stroke-width="0.9" stroke-linejoin="miter" />
<polygon points="855.8,188.3 880.52,190.77 876,202.75" fill="#231f20" stroke="none" stroke-width="0" stroke-linejoin="miter" />
<polygon points="900,195 936,195 936,229.8 900,229.8" fill="#fff" stroke="none" stroke-width="0" stroke-linejoin="miter" />
<text x="910.2" y="220.8" font-size="35.5" text-anchor="start" fill="#231f20" transform="translate(910.2 220.8) scale(0.97 1) translate(-910.2 -220.8)" stroke="#231f20" stroke-width="0.3" >L</text>
<polyline points="935.2,217.8 1011.2,245" fill="none" stroke="#666666" stroke-width="2.1" />
<polyline points="935.2,217.8 1011.2,245" fill="none" stroke="#231f20" stroke-width="1.3" />
<polygon points="1011.2,245 986.16,243.74 991.05,230.09" fill="#231f20" stroke="#666666" stroke-width="0.9" stroke-linejoin="miter" />
<polygon points="1011.2,245 986.16,243.74 991.05,230.09" fill="#231f20" stroke="none" stroke-width="0" stroke-linejoin="miter" />
<polyline points="1011.2,245 964,266.6" fill="none" stroke="#666666" stroke-width="2.2" />
<polyline points="1011.2,245 964,266.6" fill="none" stroke="#231f20" stroke-width="1.4" />
<rect x="906.3" y="119.4" width="123.4" height="61.2" fill="#fff" stroke="#8a8a8a" stroke-width="0.9"/>
<rect x="907.25" y="120.35" width="121.5" height="59.3" fill="#fff" stroke="#343031" stroke-width="1.9"/>
<text x="968.2" y="145.1" font-size="25.6" text-anchor="middle" fill="#231f20" transform="translate(968.2 145.1) scale(0.98 1) translate(-968.2 -145.1)" stroke="#231f20" stroke-width="0.3" >≥ 200 cm²</text>
<text x="968.2" y="167.6" font-size="25.6" text-anchor="middle" fill="#231f20" transform="translate(968.2 167.6) scale(0.98 1) translate(-968.2 -167.6)" stroke="#231f20" stroke-width="0.3" >(L*W)</text>
<polyline points="789,964 789,998" fill="none" stroke="#666666" stroke-width="2.3" />
<polyline points="789,964 789,998" fill="none" stroke="#231f20" stroke-width="1.5" />
<polygon points="788.9,940.2 796.2,964.2 781.6,964.2" fill="#231f20" stroke="#666666" stroke-width="0.9" stroke-linejoin="miter" />
<polygon points="788.9,940.2 796.2,964.2 781.6,964.2" fill="#231f20" stroke="none" stroke-width="0" stroke-linejoin="miter" />
<text x="710.6" y="1026.2" font-size="35" text-anchor="start" fill="#2e2a2b" transform="translate(710.6 1026.2) scale(0.97 1) translate(-710.6 -1026.2)" stroke="#585858" stroke-width="1.1" paint-order="stroke" >≥ 200 cm²</text>
<text x="710.6" y="1026.2" font-size="35" text-anchor="start" fill="#2e2a2b" transform="translate(710.6 1026.2) scale(0.97 1) translate(-710.6 -1026.2)" stroke="#2e2a2b" stroke-width="0.3" >≥ 200 cm²</text>
<rect x="876" y="1055.4" width="123.4" height="150" fill="none" stroke="#a2a2a2" stroke-width="4.6"/>
<rect x="876" y="1055.4" width="123.4" height="150" fill="none" stroke="#3a3637" stroke-width="3.0"/>
<path d="M904.6 1063.8 H970.8 Q972.9 1063.8 972.9 1066 V1130.8 Q972.9 1132.9 970.8 1132.9 H923.9 L966.7 1149.0 L964.6 1155.6 L904.2 1133.2 Q902.4 1132.4 902.4 1130.4 V1066 Q902.4 1063.8 904.6 1063.8 Z M909.4 1070.6 V1126.9 H965.7 V1070.6 Z" fill="#04100f" fill-rule="evenodd" stroke="#a4aaa9" stroke-width="1.0"/>
<path d="M904.6 1063.8 H970.8 Q972.9 1063.8 972.9 1066 V1130.8 Q972.9 1132.9 970.8 1132.9 H923.9 L966.7 1149.0 L964.6 1155.6 L904.2 1133.2 Q902.4 1132.4 902.4 1130.4 V1066 Q902.4 1063.8 904.6 1063.8 Z M909.4 1070.6 V1126.9 H965.7 V1070.6 Z" fill="#04100f" fill-rule="evenodd"/>
<line x1="931" y1="1133.9" x2="968" y2="1134.7" stroke="#c9cdcc" stroke-width="1.0" stroke-dasharray="5.5 2.2"/>
<line x1="933" y1="1136.8" x2="968" y2="1137.6" stroke="#c9cdcc" stroke-width="1.0" stroke-dasharray="5.5 2.2"/>
<line x1="945" y1="1139.6" x2="967.5" y2="1140.4" stroke="#c9cdcc" stroke-width="1.0" stroke-dasharray="5.5 2.2"/>
<line x1="952" y1="1142.4" x2="967" y2="1143.2" stroke="#c9cdcc" stroke-width="1.0" stroke-dasharray="5.5 2.2"/>
<text x="937.8" y="1173" font-size="18" text-anchor="middle" fill="#332f30" transform="translate(937.8 1173) scale(0.93 1) translate(-937.8 -1173)" stroke="#585858" stroke-width="1.1" paint-order="stroke" font-weight="bold" >SOFT</text>
<text x="937.8" y="1173" font-size="18" text-anchor="middle" fill="#332f30" transform="translate(937.8 1173) scale(0.93 1) translate(-937.8 -1173)" stroke="#332f30" stroke-width="0.3" font-weight="bold" >SOFT</text>
<text x="937.8" y="1190" font-size="18" text-anchor="middle" fill="#332f30" transform="translate(937.8 1190) scale(0.93 1) translate(-937.8 -1190)" stroke="#585858" stroke-width="1.1" paint-order="stroke" font-weight="bold" >CLOSING</text>
<text x="937.8" y="1190" font-size="18" text-anchor="middle" fill="#332f30" transform="translate(937.8 1190) scale(0.93 1) translate(-937.8 -1190)" stroke="#332f30" stroke-width="0.3" font-weight="bold" >CLOSING</text>
</svg>
</body></html>
